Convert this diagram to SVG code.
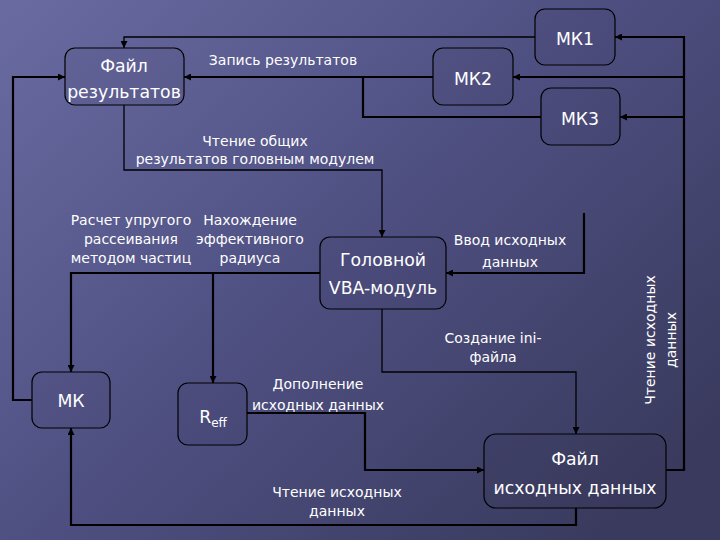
<svg xmlns="http://www.w3.org/2000/svg" width="720" height="540" viewBox="0 0 720 540">
<defs>
<linearGradient id="bg" x1="0" y1="0" x2="1" y2="0.8">
<stop offset="0" stop-color="#6a6ba1"/>
<stop offset="0.5" stop-color="#4f5082"/>
<stop offset="1" stop-color="#393a5d"/>
</linearGradient>
<marker id="ah" viewBox="0 0 10 10" refX="10" refY="5" markerWidth="7" markerHeight="7" markerUnits="userSpaceOnUse" orient="auto">
<path d="M0,0 L10,5 L0,10 z" fill="#000"/>
</marker>
<style>
.box{fill:#000;fill-opacity:0.03;stroke:#000;stroke-width:1.2}
.t{font-family:"DejaVu Sans",Verdana,sans-serif;fill:#fff;text-anchor:middle}
.bl{font-size:17.3px}
.sl{font-size:14px}
.c{fill:none;stroke:#000;stroke-linejoin:miter}
.th{stroke-width:1.3}
.tk{stroke-width:2.2}
</style>
</defs>
<rect width="720" height="540" fill="url(#bg)"/>

<g id="connectors">
<path class="c th" d="M535,37 H124 V48" marker-end="url(#ah)"/>
<path class="c th" d="M124,105 V170 H382 V237" marker-end="url(#ah)"/>
<path class="c th" d="M382,309 V372 H576 V434" marker-end="url(#ah)"/>
<path class="c tk" d="M576,508 V525 H71 V428" marker-end="url(#ah)"/>
<path class="c tk" d="M433,77 H184" marker-end="url(#ah)"/>
<path class="c tk" d="M363,77 V117 H541"/>
<path class="c tk" d="M32,400 H13 V77 H65" marker-end="url(#ah)"/>
<path class="c tk" d="M666,470 H684 V37 H615" marker-end="url(#ah)"/>
<path class="c tk" d="M684,77 H513" marker-end="url(#ah)"/>
<path class="c tk" d="M684,117 H620" marker-end="url(#ah)"/>
<path class="c tk" d="M584,213 V273 H446" marker-end="url(#ah)"/>
<path class="c tk" d="M320,273 H71 V372" marker-end="url(#ah)"/>
<path class="c tk" d="M213,273 V383" marker-end="url(#ah)"/>
<path class="c tk" d="M247,413 H365 V470 H484" marker-end="url(#ah)"/>
</g>

<g id="labels">
<text class="t sl" x="283" y="65">Запись результатов</text>
<text class="t sl" x="255" y="146">Чтение общих</text>
<text class="t sl" x="255" y="164">результатов головным модулем</text>
<text class="t sl" x="131" y="225">Расчет упругого</text>
<text class="t sl" x="131" y="244">рассеивания</text>
<text class="t sl" x="131" y="263">методом частиц</text>
<text class="t sl" x="250" y="225">Нахождение</text>
<text class="t sl" x="250" y="244">эффективного</text>
<text class="t sl" x="250" y="263">радиуса</text>
<text class="t sl" x="510" y="245">Ввод исходных</text>
<text class="t sl" x="510" y="267">данных</text>
<text class="t sl" x="493" y="343">Создание ini-</text>
<text class="t sl" x="493" y="362">файла</text>
<text class="t sl" x="318" y="389">Дополнение</text>
<text class="t sl" x="318" y="410">исходных данных</text>
<text class="t sl" x="337" y="497">Чтение исходных</text>
<text class="t sl" x="337" y="516">данных</text>
<text class="t sl" transform="translate(655,340) rotate(-90)">Чтение исходных</text>
<text class="t sl" transform="translate(676,340) rotate(-90)">данных</text>
</g>

<g id="file-results">
<rect class="box" x="65" y="48" width="119" height="57" rx="10"/>
<text class="t bl" x="124" y="72">Файл</text>
<text class="t bl" x="124" y="98">результатов</text>
</g>
<g id="mk1">
<rect class="box" x="535" y="9" width="80" height="56" rx="10"/>
<text class="t bl" x="575" y="45">МК1</text>
</g>
<g id="mk2">
<rect class="box" x="433" y="48" width="80" height="57" rx="10"/>
<text class="t bl" x="473" y="85">МК2</text>
</g>
<g id="mk3">
<rect class="box" x="541" y="88" width="79" height="57" rx="10"/>
<text class="t bl" x="580" y="125">МК3</text>
</g>
<g id="head">
<rect class="box" x="320" y="237" width="126" height="72" rx="10"/>
<text class="t bl" x="383" y="266">Головной</text>
<text class="t bl" x="383" y="294">VBA-модуль</text>
</g>
<g id="mk">
<rect class="box" x="32" y="372" width="78" height="56" rx="10"/>
<text class="t bl" x="71" y="407">МК</text>
</g>
<g id="reff">
<rect class="box" x="178" y="383" width="69" height="62" rx="10"/>
<text class="t bl" x="213" y="423">R<tspan font-size="12" dy="4">eff</tspan></text>
</g>
<g id="file-input">
<rect class="box" x="484" y="434" width="182" height="74" rx="12"/>
<text class="t bl" x="575" y="465">Файл</text>
<text class="t bl" x="575" y="494">исходных данных</text>
</g>
</svg>
